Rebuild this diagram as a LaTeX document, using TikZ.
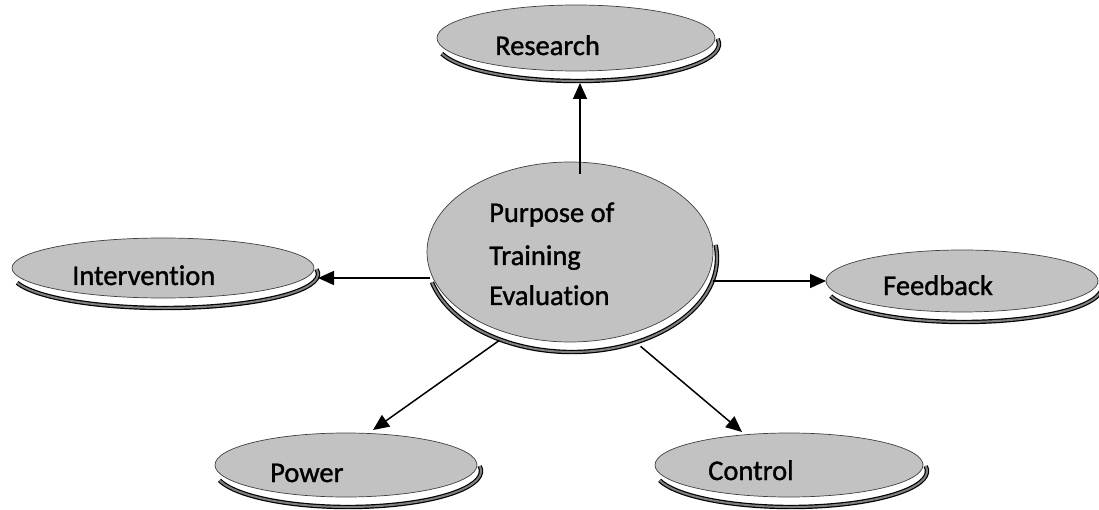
\documentclass[tikz,border=0pt]{standalone}
\usepackage{fontspec}
\setmainfont{Carlito}[Ligatures=NoCommon]
\newfontfamily\lblfont{Carlito}[Ligatures=NoCommon,FakeBold=1.2]
\usetikzlibrary{shapes.geometric,arrows.meta,calc}
\tikzset{
  bub/.style={ellipse, draw=black!75, line width=0.7pt, fill=black!24, inner sep=0pt, outer sep=0pt},
  lbl/.style={anchor=base west, inner sep=0pt, font=\lblfont\fontsize{28.5}{34}\selectfont},
  shd/.style={draw=black, line width=1.2pt, double=black!50, double distance=2pt},
  arr/.style={draw=black, line width=1.5pt, -{Triangle[length=16pt,width=14pt]}}
}
\newcommand\bubshadow[4]{%
  \draw[shd] ({#1+2},{#2+6}) ++(165:{#3+2} and {#4+4})
    arc[start angle=165, end angle=-8, x radius={#3+2}, y radius={#4+4}];}
\begin{document}
\begin{tikzpicture}[x=1pt,y=-1pt]
\useasboundingbox (0,0) rectangle (1099,510);
% shadows
\bubshadow{576}{38}{139}{33}
\bubshadow{570}{252}{143}{90}
\bubshadow{163}{268}{151}{30}
\bubshadow{962}{281}{136}{31}
\bubshadow{346}{465}{131}{32}
\bubshadow{789}{465}{134}{32}
% bubbles
\node[bub, minimum width=278pt, minimum height=66pt] (res) at (576,38) {};
\node[bub, minimum width=286pt, minimum height=180pt] (cen) at (570,252) {};
\node[bub, minimum width=302pt, minimum height=60pt] (int) at (163,268) {};
\node[bub, minimum width=272pt, minimum height=62pt] (fb) at (962,281) {};
\node[bub, minimum width=262pt, minimum height=64pt] (pow) at (346,465) {};
\node[bub, minimum width=268pt, minimum height=64pt] (ctl) at (789,465) {};
% labels
\node[lbl] (resT) at (495,55) {Research};
\node[lbl] (cenT1) at (489,222) {Purpose of};
\node[lbl] (cenT2) at (489,265) {Training};
\node[lbl] (cenT3) at (489,305) {Evaluation};
\node[lbl] (intT) at (72,285) {Intervention};
\node[lbl] (fbT) at (883,295) {Feedback};
\node[lbl] (powT) at (270,482) {Power};
\node[lbl] (ctlT) at (708,480) {Control};
% connectors
\draw[arr] ([xshift=10pt,yshift=-12pt]cen.north) -- ([xshift=4pt,yshift=-12pt]res.south);
\draw[arr] ([xshift=3pt,yshift=-26pt]cen.west) -- ([xshift=4pt,yshift=-10pt]int.east);
\draw[arr] (cen.east |- fb.west) -- (fb.west);
\draw[arr] ([yshift=-10pt]cen.228) -- ([xshift=27pt,yshift=3pt]pow.north);
\draw[arr] ([yshift=-16pt]cen.312) -- ([xshift=-47pt,yshift=1pt]ctl.north);
\end{tikzpicture}
\end{document}
